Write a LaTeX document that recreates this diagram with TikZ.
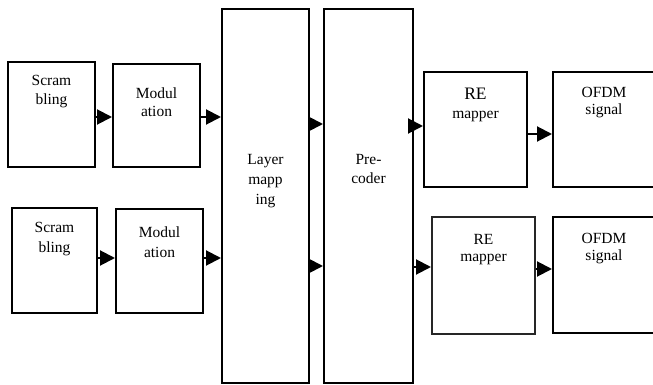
\documentclass[tikz,border=0pt]{standalone}
\usepackage{fontspec}
\setmainfont{Liberation Serif}
\usetikzlibrary{arrows.meta}
\begin{document}
\begin{tikzpicture}[x=1pt,y=-1pt,
  blk/.style={draw=black,line width=2pt,fill=white,inner sep=0pt},
  txt/.style={anchor=north,inner sep=0pt,align=center,font=\fontsize{15.5}{18.5}\selectfont},
  arr/.style={line width=2pt,-{Triangle[length=15pt,width=15pt]}}]
\useasboundingbox (0,0) rectangle (653,385);
\begin{scope}
\clip (0,0) rectangle (653,385);
% boxes
\node[blk,minimum width=87pt,minimum height=105pt] (s1) at (51.5,114.5) {};
\node[blk,minimum width=87pt,minimum height=103pt] (m1) at (156.5,115.5) {};
\node[blk,minimum width=85pt,minimum height=105pt] (s2) at (54.5,260.5) {};
\node[blk,minimum width=87pt,minimum height=104pt] (m2) at (159.5,261) {};
\node[blk,minimum width=87pt,minimum height=374pt] (L) at (265.5,196) {};
\node[blk,minimum width=89pt,minimum height=374pt] (P) at (368.5,196) {};
\node[blk,minimum width=103pt,minimum height=115pt] (r1) at (475.5,129.5) {};
\node[blk,minimum width=103pt,minimum height=115pt] (o1) at (604.5,129.5) {};
\node[blk,draw=black!85,minimum width=103pt,minimum height=117pt] (r2) at (483.5,275.5) {};
\node[blk,minimum width=103pt,minimum height=116pt] (o2) at (604.5,275) {};
% texts
\node[txt] (s1t) at (51.5,75.5) {Scram\\bling};
\node[txt] (m1t) at (156.5,87.5) {Modul\\ation};
\node[txt,font=\fontsize{15.5}{20}\selectfont] (s2t) at (54.5,222.5) {Scram\\bling};
\node[txt,font=\fontsize{15.5}{20}\selectfont] (m2t) at (159.5,226.5) {Modul\\ation};
\node[txt,font=\fontsize{15.5}{20}\selectfont] (Lt) at (265.5,154.5) {Layer\\mapp\\ing};
\node[txt] (Pt) at (368.5,154.5) {Pre-\\coder};
\node[txt] (r1t) at (475.5,88) {{\fontsize{17.5}{18}\selectfont RE}\\mapper};
\node[txt,font=\fontsize{15.5}{16.5}\selectfont] (o1t) at (604,87.5) {OFDM\\signal};
\node[txt,font=\fontsize{15.5}{16.5}\selectfont] (r2t) at (483.5,234.5) {RE\\mapper};
\node[txt,font=\fontsize{15.5}{16.5}\selectfont] (o2t) at (604,233.5) {OFDM\\signal};
\end{scope}
% arrows
\draw[arr] (s1.east |- 0,117) -- (m1.west |- 0,117);
\draw[arr] (m1.east |- 0,117) -- (L.west |- 0,117);
\draw[arr] (s2.east |- 0,258) -- (m2.west |- 0,258);
\draw[arr] (m2.east |- 0,258) -- (L.west |- 0,258);
\draw[arr] (L.east |- 0,124) -- (P.west |- 0,124);
\draw[arr] (L.east |- 0,266) -- (P.west |- 0,266);
\draw[arr] (P.east |- 0,126) -- (r1.west |- 0,126);
\draw[arr] (P.east |- 0,267) -- (r2.west |- 0,267);
\draw[arr] (r1.east |- 0,134) -- (o1.west |- 0,134);
\draw[arr] (r2.east |- 0,269) -- (o2.west |- 0,269);
\end{tikzpicture}
\end{document}
